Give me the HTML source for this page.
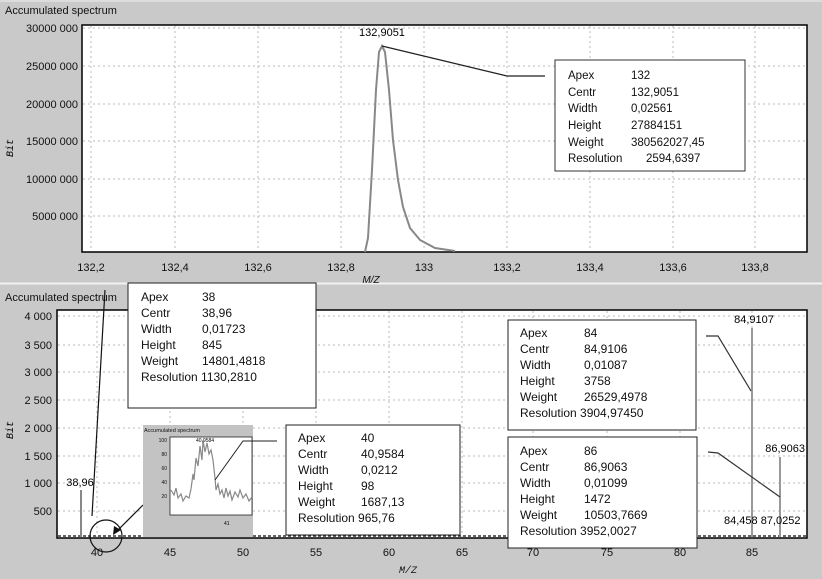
<!DOCTYPE html>
<html><head><meta charset="utf-8"><style>
html,body{margin:0;padding:0;background:#c9c9c9}
svg{display:block;font-family:"Liberation Sans",sans-serif}
</style></head><body>
<svg width="822" height="579" viewBox="0 0 822 579" xmlns="http://www.w3.org/2000/svg">
<rect width="822" height="579" fill="#c9c9c9"/>
<line x1="0" y1="283.5" x2="822" y2="283.5" stroke="#f2f2f2" stroke-width="2"/>
<line x1="0" y1="1" x2="822" y2="1" stroke="#eee"/>
<!-- TOP -->
<text x="5" y="14" font-size="11" fill="#111">Accumulated spectrum</text>
<rect x="82" y="25" width="725" height="227" fill="#fff" stroke="#000" stroke-width="1.5"/>
<g stroke="#bbb" stroke-dasharray="2,3" stroke-width="1">
<line x1="91" y1="26" x2="91" y2="251"/><line x1="175" y1="26" x2="175" y2="251"/><line x1="258" y1="26" x2="258" y2="251"/><line x1="341" y1="26" x2="341" y2="251"/><line x1="424" y1="26" x2="424" y2="251"/><line x1="507" y1="26" x2="507" y2="251"/><line x1="590" y1="26" x2="590" y2="251"/><line x1="673" y1="26" x2="673" y2="251"/><line x1="755" y1="26" x2="755" y2="251"/>
<line x1="83" y1="28" x2="806" y2="28"/><line x1="83" y1="66" x2="806" y2="66"/><line x1="83" y1="104" x2="806" y2="104"/><line x1="83" y1="141" x2="806" y2="141"/><line x1="83" y1="179" x2="806" y2="179"/><line x1="83" y1="216" x2="806" y2="216"/>
</g>
<g font-size="11" fill="#111" text-anchor="end">
<text x="78" y="32">30000 000</text><text x="78" y="70">25000 000</text><text x="78" y="108">20000 000</text><text x="78" y="145">15000 000</text><text x="78" y="183">10000 000</text><text x="78" y="220">5000 000</text>
</g>
<g font-size="11" fill="#111" text-anchor="middle">
<text x="91" y="271">132,2</text><text x="175" y="271">132,4</text><text x="258" y="271">132,6</text><text x="341" y="271">132,8</text><text x="424" y="271">133</text><text x="507" y="271">133,2</text><text x="590" y="271">133,4</text><text x="673" y="271">133,6</text><text x="755" y="271">133,8</text>
<text x="371" y="283" font-size="10" font-style="italic">M/Z</text>
</g>
<text transform="translate(13,148) rotate(-90)" font-size="10" font-family="Liberation Mono,monospace" font-style="italic" text-anchor="middle">Bit</text>
<path d="M365,252 L368,238 L372,170 L376,90 L379,52 L382,46 L385,52 L389,90 L393,140 L398,180 L403,207 L410,228 L420,240 L435,248 L455,251" fill="none" stroke="#888" stroke-width="2"/>
<polyline points="382,46 507,76 545,76" fill="none" stroke="#222" stroke-width="1.2"/>
<text x="382" y="36" font-size="11" text-anchor="middle">132,9051</text>
<rect x="555" y="60" width="190" height="111" fill="#fff" stroke="#333" stroke-width="1"/>
<g font-size="11.5" fill="#111">
<text x="568" y="79">Apex</text><text x="631" y="79">132</text>
<text x="568" y="96">Centr</text><text x="631" y="96">132,9051</text>
<text x="568" y="112">Width</text><text x="631" y="112">0,02561</text>
<text x="568" y="129">Height</text><text x="631" y="129">27884151</text>
<text x="568" y="146">Weight</text><text x="631" y="146">380562027,45</text>
<text x="568" y="162">Resolution</text><text x="646" y="162">2594,6397</text>
</g>
<!-- BOTTOM -->
<text x="5" y="301" font-size="11" fill="#111">Accumulated spectrum</text>
<rect x="57" y="310" width="750" height="228" fill="#fff" stroke="#000" stroke-width="1.5"/>
<g stroke="#bbb" stroke-dasharray="2,3">
<line x1="97" y1="311" x2="97" y2="537"/><line x1="170" y1="311" x2="170" y2="537"/><line x1="243" y1="311" x2="243" y2="537"/><line x1="316" y1="311" x2="316" y2="537"/><line x1="389" y1="311" x2="389" y2="537"/><line x1="462" y1="311" x2="462" y2="537"/><line x1="533" y1="311" x2="533" y2="537"/><line x1="607" y1="311" x2="607" y2="537"/><line x1="680" y1="311" x2="680" y2="537"/><line x1="752" y1="311" x2="752" y2="537"/>
<line x1="58" y1="316" x2="806" y2="316"/><line x1="58" y1="345" x2="806" y2="345"/><line x1="58" y1="372" x2="806" y2="372"/><line x1="58" y1="400" x2="806" y2="400"/><line x1="58" y1="428" x2="806" y2="428"/><line x1="58" y1="456" x2="806" y2="456"/><line x1="58" y1="483" x2="806" y2="483"/><line x1="58" y1="511" x2="806" y2="511"/>
</g>
<line x1="58" y1="536" x2="806" y2="536" stroke="#333" stroke-dasharray="3,2" stroke-width="1.5"/>
<g font-size="11" fill="#111" text-anchor="end">
<text x="52" y="320">4 000</text><text x="52" y="349">3 500</text><text x="52" y="376">3 000</text><text x="52" y="404">2 500</text><text x="52" y="432">2 000</text><text x="52" y="460">1 500</text><text x="52" y="487">1 000</text><text x="52" y="515">500</text>
</g>
<g font-size="11" fill="#111" text-anchor="middle">
<text x="97" y="556">40</text><text x="170" y="556">45</text><text x="243" y="556">50</text><text x="316" y="556">55</text><text x="389" y="556">60</text><text x="462" y="556">65</text><text x="533" y="556">70</text><text x="607" y="556">75</text><text x="680" y="556">80</text><text x="752" y="556">85</text>
<text x="408" y="573" font-size="10" font-style="italic" font-family="Liberation Mono,monospace">M/Z</text>
</g>
<text transform="translate(13,430) rotate(-90)" font-size="10" font-family="Liberation Mono,monospace" font-style="italic" text-anchor="middle">Bit</text>
<!-- peaks -->
<line x1="81" y1="490" x2="81" y2="537" stroke="#888" stroke-width="2"/>
<line x1="752" y1="328" x2="752" y2="537" stroke="#999" stroke-width="2"/>
<line x1="780" y1="457" x2="780" y2="537" stroke="#999" stroke-width="2"/>
<text x="80" y="486" font-size="11" text-anchor="middle">38,96</text>
<text x="754" y="323" font-size="11" text-anchor="middle">84,9107</text>
<text x="805" y="452" font-size="11" text-anchor="end">86,9063</text>
<text x="724" y="524" font-size="11">84,458 87,0252</text>
<line x1="105" y1="290" x2="92" y2="516" stroke="#111" stroke-width="1.2"/>
<polyline points="706,336 718,336 751,391" fill="none" stroke="#333" stroke-width="1.2"/>
<polyline points="708,452 718,453 780,497" fill="none" stroke="#333" stroke-width="1.2"/>
<circle cx="106" cy="536" r="16" fill="none" stroke="#111" stroke-width="1.2"/>
<line x1="143" y1="505" x2="116" y2="532" stroke="#111" stroke-width="1.2"/>
<polygon points="113,535 114,526 121,530" fill="#111"/>
<!-- inset -->
<rect x="143" y="425" width="110" height="112" fill="#c3c3c3"/>
<text x="144" y="432" font-size="5.5" fill="#111">Accumulated spectrum</text>
<rect x="170" y="437" width="82" height="78" fill="#fff" stroke="#222" stroke-width="0.8"/>
<g font-size="5" fill="#111" text-anchor="end"><text x="167" y="442">100</text><text x="167" y="456">80</text><text x="167" y="470">60</text><text x="167" y="484">40</text><text x="167" y="498">20</text></g>
<text x="224" y="525" font-size="5">41</text>
<text x="196" y="442" font-size="5">40,9584</text>
<polyline fill="none" stroke="#888" stroke-width="1.2" points="171,490 174,495 176,488 178,498 181,494 183,501 186,496 189,498 191,489 193,474 194,480 196,458 198,466 200,446 202,460 203,440 205,452 207,443 209,454 211,450 213,460 215,478 216,490 218,484 220,494 222,490 224,498 226,488 228,496 230,491 232,500 235,492 238,497 240,490 243,498 246,494 249,501 252,497"/>
<polyline points="215,480 243,441 277,441" fill="none" stroke="#222" stroke-width="1"/>
<!-- boxes -->
<rect x="128" y="283" width="188" height="125" fill="#fff" stroke="#222" stroke-width="1"/>
<g font-size="12" fill="#111">
<text x="141" y="301">Apex</text><text x="202" y="301">38</text>
<text x="141" y="317">Centr</text><text x="202" y="317">38,96</text>
<text x="141" y="333">Width</text><text x="202" y="333">0,01723</text>
<text x="141" y="349">Height</text><text x="202" y="349">845</text>
<text x="141" y="365">Weight</text><text x="202" y="365">14801,4818</text>
<text x="141" y="381">Resolution 1130,2810</text>
</g>
<rect x="286" y="425" width="174" height="110" fill="#fff" stroke="#222" stroke-width="1"/>
<g font-size="12" fill="#111">
<text x="298" y="442">Apex</text><text x="361" y="442">40</text>
<text x="298" y="458">Centr</text><text x="361" y="458">40,9584</text>
<text x="298" y="474">Width</text><text x="361" y="474">0,0212</text>
<text x="298" y="490">Height</text><text x="361" y="490">98</text>
<text x="298" y="506">Weight</text><text x="361" y="506">1687,13</text>
<text x="298" y="522">Resolution 965,76</text>
</g>
<rect x="508" y="320" width="188" height="110" fill="#fff" stroke="#222" stroke-width="1"/>
<g font-size="12" fill="#111">
<text x="520" y="337">Apex</text><text x="584" y="337">84</text>
<text x="520" y="353">Centr</text><text x="584" y="353">84,9106</text>
<text x="520" y="369">Width</text><text x="584" y="369">0,01087</text>
<text x="520" y="385">Height</text><text x="584" y="385">3758</text>
<text x="520" y="401">Weight</text><text x="584" y="401">26529,4978</text>
<text x="520" y="417">Resolution  3904,97450</text>
</g>
<rect x="508" y="437" width="189" height="111" fill="#fff" stroke="#222" stroke-width="1"/>
<g font-size="12" fill="#111">
<text x="520" y="455">Apex</text><text x="584" y="455">86</text>
<text x="520" y="471">Centr</text><text x="584" y="471">86,9063</text>
<text x="520" y="487">Width</text><text x="584" y="487">0,01099</text>
<text x="520" y="503">Height</text><text x="584" y="503">1472</text>
<text x="520" y="519">Weight</text><text x="584" y="519">10503,7669</text>
<text x="520" y="535">Resolution  3952,0027</text>
</g>
</svg>
</body></html>
